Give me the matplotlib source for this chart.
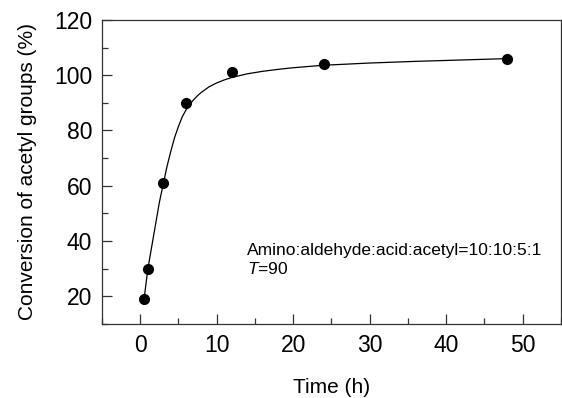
import matplotlib
matplotlib.use("Agg")
import matplotlib.pyplot as plt
from matplotlib.ticker import MultipleLocator

plt.rcParams["font.family"] = ["Liberation Sans", "DejaVu Sans"]
plt.rcParams["mathtext.fontset"] = "custom"
plt.rcParams["mathtext.rm"] = "Liberation Sans"
plt.rcParams["mathtext.it"] = "Liberation Sans:italic"

# measured points
time_h = [0.5, 1, 3, 6, 12, 24, 48]
conversion = [19, 30, 61, 90, 101, 104, 106]

# fitted curve
fit_x = [0.5, 1, 1.5, 2, 2.5, 3, 3.5, 4, 4.5, 5, 5.5, 6, 6.5, 7, 7.5, 8, 9,
         10, 11, 12, 14, 16, 18, 20, 24, 30, 36, 42, 48]
fit_y = [19, 30, 38, 46, 54, 60.5, 67, 72.5, 77.5, 81.5, 85, 87.5, 89.5, 91.2,
         92.6, 93.8, 95.8, 97.2, 98.3, 99.2, 100.5, 101.4, 102.1, 102.7,
         103.6, 104.4, 105, 105.5, 106]

fig = plt.figure(figsize=(5.62, 3.98), dpi=100)
ax = fig.add_axes([0.1815, 0.186, 0.8165, 0.764])

ax.plot(fit_x, fit_y, color="black", lw=0.9)
ax.plot(time_h, conversion, "o", color="black", ms=7)

ax.set_xlim(-5, 55)
ax.set_ylim(10, 120)
ax.xaxis.set_major_locator(MultipleLocator(10))
ax.xaxis.set_minor_locator(MultipleLocator(5))
ax.yaxis.set_major_locator(MultipleLocator(20))
ax.yaxis.set_minor_locator(MultipleLocator(10))
ax.tick_params(which="both", direction="in", top=False, right=False,
               labelsize=16.5, width=0.9, color="#333333")
ax.tick_params(which="major", length=7)
ax.tick_params(which="minor", length=4)
ax.tick_params(axis="x", pad=7)
ax.tick_params(axis="y", pad=7)
for s in ax.spines.values():
    s.set_linewidth(0.9)
    s.set_color("#333333")

ax.set_xlabel("Time (h)", fontsize=15, labelpad=15)
ax.set_ylabel("Conversion of acetyl groups (%)", fontsize=15, labelpad=12)

ax.text(14, 36.5, "Amino:aldehyde:acid:acetyl=10:10:5:1", fontsize=12.5,
        va="center", ha="left")
ax.text(14, 30, r"$T$=90", fontsize=12.5, va="center", ha="left")

fig.savefig("out.png", dpi=100)
